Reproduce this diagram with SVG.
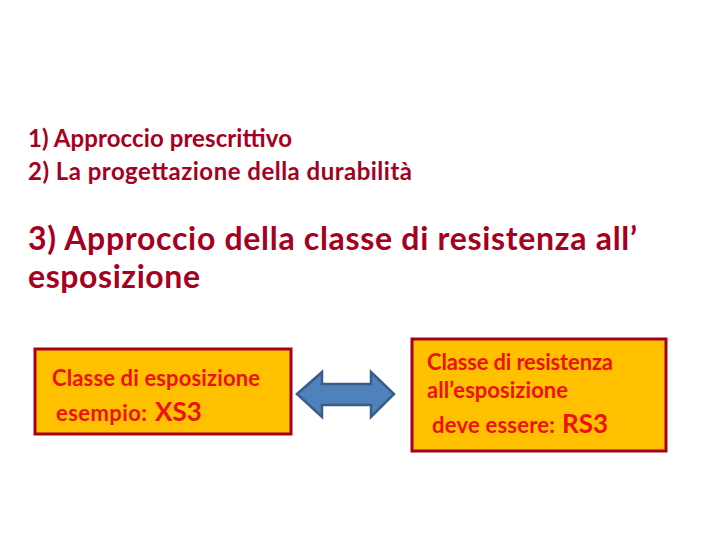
<svg xmlns="http://www.w3.org/2000/svg" width="720" height="540" viewBox="0 0 720 540">
<style>
.t{font-family:Lato,"Open Sans","Liberation Sans",sans-serif;font-weight:bold;fill:#A50021}
.b{fill:#FFC000;stroke:#A50021;stroke-width:3}
.bt{font-family:Lato,"Open Sans","Liberation Sans",sans-serif;font-weight:bold;fill:#EE1111;font-size:22px}
.big{font-size:26px}
</style>
<rect width="720" height="540" fill="#FFFFFF"/>
<g id="title">
<text class="t" x="28" y="147" font-size="24" textLength="264">1) Approccio prescrittivo</text>
<text class="t" x="28" y="180" font-size="24" textLength="384">2) La progettazione della durabilità</text>
<text class="t" x="28" y="250" font-size="32" textLength="609">3) Approccio della classe di resistenza all’</text>
<text class="t" x="28" y="288" font-size="32" textLength="172">esposizione</text>
</g>
<g id="exposure">
<rect class="b" x="35" y="349" width="256" height="85"/>
<text class="bt" x="52" y="386" textLength="208">Classe di esposizione</text>
<text class="bt" x="56" y="421" textLength="91">esempio:</text>
<text class="bt big" x="155" y="421">XS3</text>
</g>
<g id="connectors">
<path d="M297,394 L322,372 L322,384 L371,384 L371,372 L394,394 L371,417 L371,405 L322,405 L322,417 Z" fill="#4F81BD" stroke="#385D8A" stroke-width="2.5" stroke-linejoin="miter"/>
</g>
<g id="resistance">
<rect class="b" x="412" y="339" width="254" height="112"/>
<text class="bt" x="427" y="370" textLength="186">Classe di resistenza</text>
<text class="bt" x="427" y="398" textLength="141">all’esposizione</text>
<text class="bt" x="432" y="433" textLength="123">deve essere:</text>
<text class="bt big" x="562" y="433">RS3</text>
</g>
</svg>
